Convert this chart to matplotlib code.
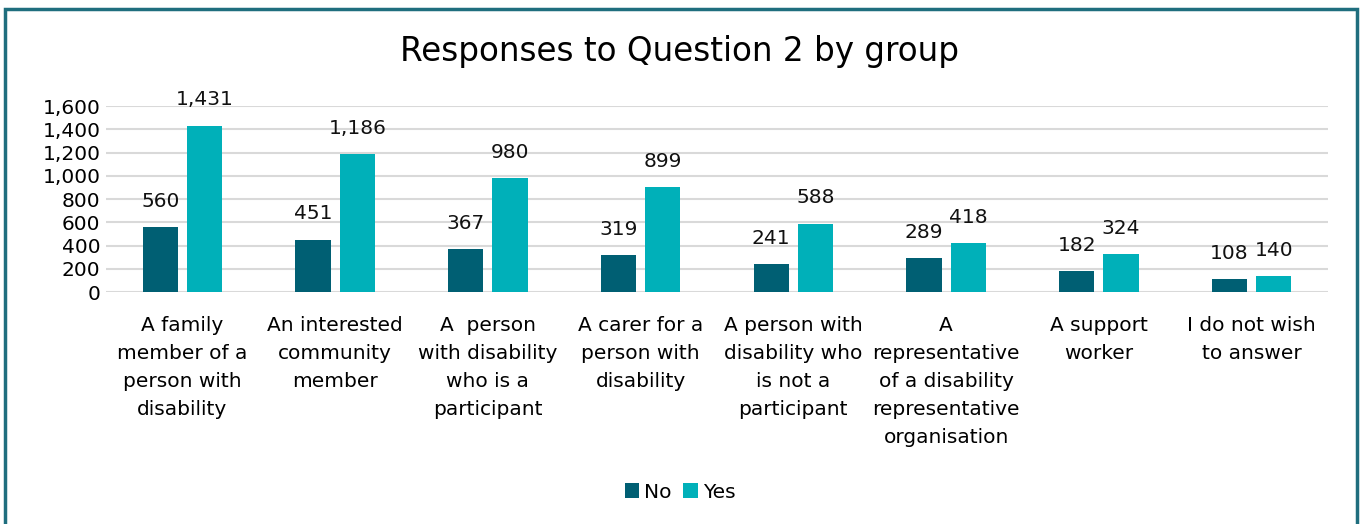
import numpy as np
import matplotlib.pyplot as plt
from matplotlib.patches import Rectangle

categories = [
    'A family\nmember of a\nperson with\ndisability',
    'An interested\ncommunity\nmember',
    'A  person\nwith disability\nwho is a\nparticipant',
    'A carer for a\nperson with\ndisability',
    'A person with\ndisability who\nis not a\nparticipant',
    'A\nrepresentative\nof a disability\nrepresentative\norganisation',
    'A support\nworker',
    'I do not wish\nto answer',
]
no_vals = [560, 451, 367, 319, 241, 289, 182, 108]
yes_vals = [1431, 1186, 980, 899, 588, 418, 324, 140]
yticks = [0, 200, 400, 600, 800, 1000, 1200, 1400, 1600]

C_NO = '#005f73'
C_YES = '#00b0b9'
FS = 14.5

plt.rcParams['font.family'] = ['DejaVu Sans']

fig = plt.figure(figsize=(13.6, 5.24), dpi=100)
ax = fig.add_axes([106 / 1360, 1 - 292 / 524, (1328 - 106) / 1360, (292 - 106) / 524])

x = np.arange(len(categories))
w = 0.23
off = 0.145
b1 = ax.bar(x - off, no_vals, w, color=C_NO, label='No', zorder=3)
b2 = ax.bar(x + off, yes_vals, w, color=C_YES, label='Yes', zorder=3)

for bars, vals in ((b1, no_vals), (b2, yes_vals)):
    for r, v in zip(bars, vals):
        ax.annotate(f'{v:,}', (r.get_x() + r.get_width() / 2, v),
                    xytext=(0, 18.5), textcoords='offset points',
                    ha='center', va='center', fontsize=FS, color='#111111')

ax.set_xlim(-0.5, len(categories) - 0.5)
ax.set_ylim(0, 1600)
ax.set_yticks(yticks)
ax.set_yticklabels([f'{t:,}' for t in yticks], fontsize=FS)
ax.set_xticks(x)
ax.set_xticklabels(categories, fontsize=FS, linespacing=1.6, va='top')
ax.tick_params(axis='both', length=0)
ax.tick_params(axis='x', pad=17)
ax.tick_params(axis='y', pad=4)
ax.grid(axis='y', color='#d9d9d9', linewidth=1.5, zorder=0)
for s in ax.spines.values():
    s.set_visible(False)

fig.text(0.5, 1 - 52 / 524, 'Responses to Question 2 by group',
         ha='center', va='center', fontsize=23.5)

fig.legend(handles=[b1, b2], labels=['No', 'Yes'], loc='center',
           bbox_to_anchor=(0.5, 1 - 492 / 524), ncol=2, frameon=False,
           fontsize=FS, handlelength=0.7, handleheight=0.7,
           handletextpad=0.25, columnspacing=0.6)

fig.patches.append(Rectangle((5 / 1360, -0.05), 1352 / 1360, 1.05 - 9 / 524,
                             transform=fig.transFigure, fill=False,
                             edgecolor='#1f6e7e', linewidth=2.5))

fig.savefig('out.png', dpi=100)
